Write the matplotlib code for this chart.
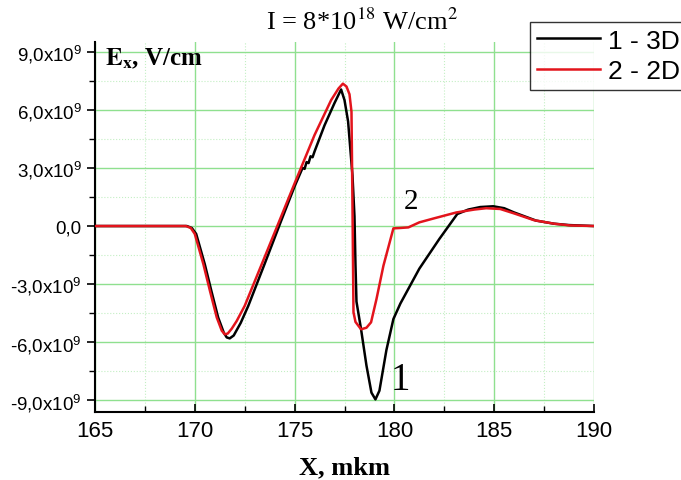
import numpy as np
import matplotlib
matplotlib.use("Agg")
import matplotlib.pyplot as plt
from matplotlib.ticker import MultipleLocator, FuncFormatter

plt.rcParams['font.family'] = ['Liberation Sans', 'DejaVu Sans']
plt.rcParams['mathtext.fontset'] = 'custom'
plt.rcParams['mathtext.rm'] = 'Liberation Sans'
plt.rcParams['mathtext.it'] = 'Liberation Sans:italic'
plt.rcParams['mathtext.bf'] = 'Liberation Sans:bold'

# curve 1 - 3D (black), x in mkm, E in units of 1e9 V/cm
x_3d = [165.0, 169.6, 169.85, 170.07, 170.5, 170.83, 171.17, 171.45, 171.6, 171.75,
        171.95, 172.3, 172.68, 173.5, 174.3, 175.0, 175.4, 175.5, 175.6, 175.7,
        175.8, 175.9, 176.0, 176.5, 177.0, 177.33, 177.5, 177.68, 177.9, 178.0,
        178.05, 178.1, 178.33, 178.6, 178.85, 179.05, 179.25, 179.6, 179.95, 180.3,
        181.25, 182.25, 183.15, 183.7, 184.3, 184.95, 185.5, 186.0, 187.1, 188.0,
        188.75, 190.0]
e_3d = [0.0, 0.0, -0.1, -0.41, -1.97, -3.35, -4.72, -5.5, -5.75, -5.8,
        -5.65, -5.0, -4.12, -1.95, 0.2, 2.05, 3.0, 2.95, 3.3, 3.25,
        3.6, 3.55, 3.85, 5.2, 6.35, 7.05, 6.5, 5.4, 2.6, 0.5,
        -2.0, -3.9, -5.33, -7.2, -8.6, -8.95, -8.5, -6.4, -4.8, -4.0,
        -2.2, -0.67, 0.62, 0.85, 0.98, 1.02, 0.92, 0.7, 0.28, 0.12,
        0.05, 0.0]

# curve 2 - 2D (red)
x_2d = [165.0, 169.55, 169.8, 170.0, 170.43, 170.76, 171.1, 171.35, 171.5, 171.65,
        171.85, 172.1, 172.5, 173.5, 174.35, 175.0, 176.0, 176.83, 177.2, 177.42,
        177.6, 177.75, 177.85, 177.9, 177.95, 178.05, 178.33, 178.6, 178.83, 179.1,
        179.45, 179.95, 180.3, 180.7, 181.25, 182.0, 183.1, 184.0, 184.6, 185.3,
        186.0, 187.0, 188.0, 188.8, 190.0]
e_2d = [0.0, 0.0, -0.1, -0.41, -1.97, -3.35, -4.72, -5.4, -5.59, -5.55,
        -5.3, -4.9, -4.12, -1.6, 0.55, 2.2, 4.7, 6.5, 7.1, 7.35,
        7.2, 6.8, 5.9, 1.0, -4.45, -4.95, -5.33, -5.25, -4.97, -3.78,
        -2.05, -0.12, -0.1, -0.07, 0.19, 0.4, 0.7, 0.85, 0.92, 0.88,
        0.65, 0.3, 0.12, 0.03, 0.0]

fig = plt.figure(figsize=(6.81, 4.81), dpi=100)
ax = fig.add_axes([95 / 681, 1 - 413 / 481, 499 / 681, 370 / 481])

ax.plot(x_3d, np.array(e_3d) * 1e9, color='black', lw=1.8, label='1 - 3D',
        solid_joinstyle='round', zorder=3)
ax.plot(x_2d, np.array(e_2d) * 1e9, color='#e3141c', lw=1.8, label='2 - 2D',
        solid_joinstyle='round', zorder=4)

ax.set_xlim(165, 190)
ax.set_ylim(-9.6e9, 9.5e9)

ax.xaxis.set_major_locator(MultipleLocator(5))
ax.xaxis.set_minor_locator(MultipleLocator(2.5))
ax.yaxis.set_major_locator(MultipleLocator(3e9))
ax.yaxis.set_minor_locator(MultipleLocator(1.5e9))


def yfmt(v, pos):
    if abs(v) < 1:
        return '0,0'
    m = v / 1e9
    return ('%.1f' % m).replace('.', ',') + r'x10$^{9}$'


ax.yaxis.set_major_formatter(FuncFormatter(yfmt))

ax.grid(which='major', color='#8fe08f', lw=1.0)
ax.grid(which='minor', color='#c4efc4', lw=0.8, ls=':')
ax.set_axisbelow(True)

for s in ['top', 'right']:
    ax.spines[s].set_visible(False)
for s in ['left', 'bottom']:
    ax.spines[s].set_linewidth(1.5)

ax.tick_params(axis='x', which='both', direction='in', labelsize=16, pad=6)
ax.tick_params(axis='x', which='major', length=6, width=1.2)
ax.tick_params(axis='x', which='minor', length=4, width=1.0)
ax.tick_params(axis='y', which='both', direction='out', labelsize=13.5)
ax.tick_params(axis='y', which='major', length=6, width=1.2)
ax.tick_params(axis='y', which='minor', length=4, width=1.0)

ax.set_xlabel('X, mkm', family='Liberation Serif', weight='bold', fontsize=19, labelpad=10)

ax.text(0.02, 0.99, r'$\mathbf{E}_{\mathbf{x}}$, V/cm', transform=ax.transAxes,
        family='Liberation Serif', weight='bold', fontsize=18, math_fontfamily='stix',
        ha='left', va='top')

fig.text(362 / 681, 1 - 22 / 481, r'I = 8*10$^{18}$ W/cm$^{2}$', family='Liberation Serif',
         fontsize=19, math_fontfamily='stix', ha='center', va='center')

ax.text(179.8, -7.9e9, '1', family='Liberation Serif', fontsize=28, ha='left', va='center')
ax.text(180.83, 1.3e9, '2', family='Liberation Serif', fontsize=21, ha='center', va='center')

leg = ax.legend(loc='upper left', bbox_to_anchor=(530 / 681, 1 - 23 / 481),
                bbox_transform=fig.transFigure, fontsize=19, frameon=True,
                fancybox=False, handlelength=2.4, borderpad=0.25, labelspacing=0.25,
                handletextpad=0.3, borderaxespad=0)
leg.get_frame().set_edgecolor('black')
leg.get_frame().set_linewidth(1.0)

fig.savefig('out.png', dpi=100)
